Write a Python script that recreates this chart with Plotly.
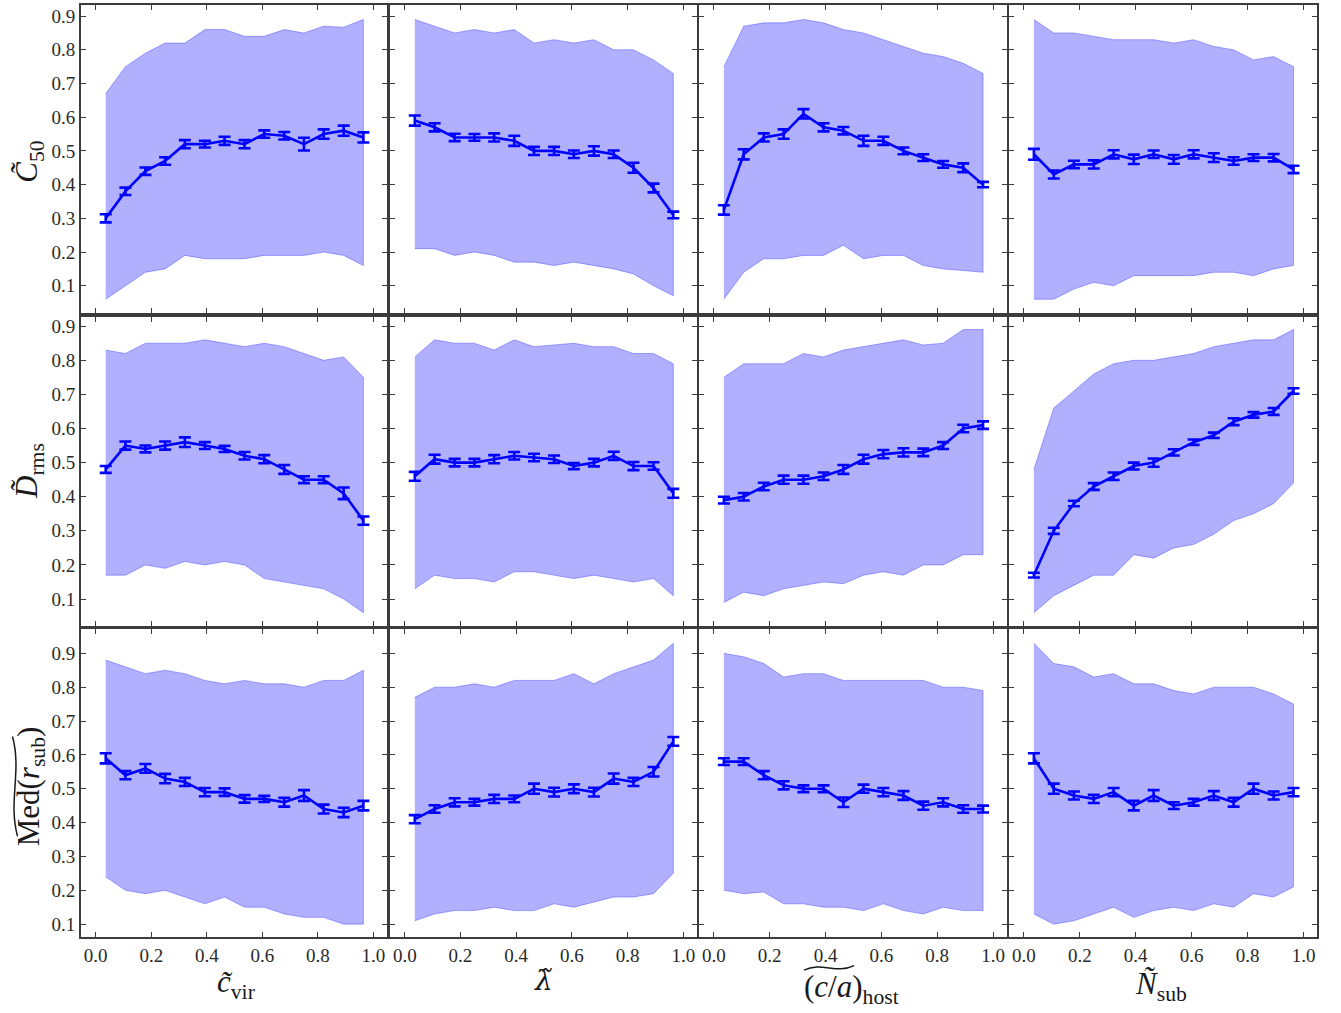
import plotly.graph_objects as go

# ---- bin centres (14 equal-width bins of the rank-normalised property) ----
x_bins = [0.036, 0.107, 0.179, 0.250, 0.321, 0.393, 0.464,
          0.536, 0.607, 0.679, 0.750, 0.821, 0.893, 0.964]

x_tick_vals = [0.0, 0.2, 0.4, 0.6, 0.8, 1.0]
y_tick_vals = [0.1, 0.2, 0.3, 0.4, 0.5, 0.6, 0.7, 0.8, 0.9]

# ---- row 1: C50 ----
c50_cvir_med = [0.30, 0.38, 0.44, 0.47, 0.52, 0.52, 0.53, 0.52, 0.55, 0.545, 0.52, 0.55, 0.56, 0.54]
c50_cvir_err = [0.012, 0.011, 0.011, 0.011, 0.012, 0.010, 0.012, 0.012, 0.011, 0.011, 0.019, 0.014, 0.015, 0.015]
c50_cvir_hi = [0.67, 0.75, 0.79, 0.82, 0.82, 0.86, 0.86, 0.84, 0.84, 0.86, 0.85, 0.87, 0.867, 0.89]
c50_cvir_lo = [0.06, 0.10, 0.14, 0.15, 0.19, 0.18, 0.18, 0.18, 0.19, 0.19, 0.19, 0.20, 0.19, 0.16]

c50_lam_med = [0.59, 0.57, 0.54, 0.54, 0.54, 0.53, 0.50, 0.50, 0.49, 0.50, 0.49, 0.45, 0.39, 0.31]
c50_lam_err = [0.015, 0.012, 0.011, 0.010, 0.012, 0.015, 0.012, 0.012, 0.011, 0.014, 0.011, 0.015, 0.013, 0.010]
c50_lam_hi = [0.89, 0.87, 0.85, 0.86, 0.85, 0.86, 0.82, 0.83, 0.82, 0.83, 0.80, 0.80, 0.77, 0.73]
c50_lam_lo = [0.21, 0.21, 0.19, 0.20, 0.19, 0.17, 0.17, 0.16, 0.17, 0.16, 0.15, 0.135, 0.10, 0.07]

c50_ca_med = [0.325, 0.49, 0.54, 0.55, 0.61, 0.57, 0.56, 0.53, 0.53, 0.50, 0.48, 0.46, 0.45, 0.40]
c50_ca_err = [0.014, 0.015, 0.012, 0.014, 0.014, 0.012, 0.011, 0.015, 0.012, 0.010, 0.010, 0.010, 0.013, 0.008]
c50_ca_hi = [0.75, 0.87, 0.88, 0.88, 0.89, 0.88, 0.86, 0.85, 0.83, 0.81, 0.79, 0.78, 0.76, 0.73]
c50_ca_lo = [0.06, 0.14, 0.18, 0.18, 0.19, 0.19, 0.22, 0.18, 0.19, 0.19, 0.16, 0.15, 0.145, 0.14]

c50_nsub_med = [0.49, 0.43, 0.46, 0.46, 0.49, 0.475, 0.49, 0.475, 0.49, 0.48, 0.47, 0.48, 0.48, 0.445]
c50_nsub_err = [0.016, 0.012, 0.011, 0.012, 0.012, 0.014, 0.011, 0.013, 0.012, 0.013, 0.011, 0.010, 0.011, 0.011]
c50_nsub_hi = [0.89, 0.85, 0.85, 0.84, 0.83, 0.83, 0.83, 0.82, 0.83, 0.81, 0.80, 0.77, 0.78, 0.75]
c50_nsub_lo = [0.06, 0.06, 0.09, 0.11, 0.10, 0.13, 0.13, 0.13, 0.13, 0.14, 0.14, 0.13, 0.15, 0.16]

# ---- row 2: D_rms ----
drms_cvir_med = [0.48, 0.55, 0.54, 0.55, 0.56, 0.55, 0.54, 0.52, 0.51, 0.48, 0.45, 0.45, 0.41, 0.33]
drms_cvir_err = [0.010, 0.012, 0.010, 0.012, 0.014, 0.010, 0.009, 0.011, 0.012, 0.013, 0.010, 0.010, 0.017, 0.012]
drms_cvir_hi = [0.83, 0.82, 0.85, 0.85, 0.85, 0.86, 0.85, 0.84, 0.85, 0.84, 0.82, 0.80, 0.81, 0.75]
drms_cvir_lo = [0.17, 0.17, 0.20, 0.19, 0.21, 0.20, 0.21, 0.20, 0.16, 0.15, 0.14, 0.13, 0.10, 0.06]

drms_lam_med = [0.46, 0.51, 0.50, 0.50, 0.51, 0.52, 0.515, 0.51, 0.49, 0.50, 0.52, 0.49, 0.49, 0.41]
drms_lam_err = [0.013, 0.013, 0.011, 0.011, 0.012, 0.011, 0.011, 0.011, 0.009, 0.011, 0.012, 0.012, 0.011, 0.013]
drms_lam_hi = [0.81, 0.86, 0.85, 0.85, 0.83, 0.86, 0.84, 0.845, 0.85, 0.84, 0.84, 0.82, 0.82, 0.79]
drms_lam_lo = [0.13, 0.17, 0.16, 0.16, 0.15, 0.18, 0.18, 0.17, 0.16, 0.17, 0.16, 0.15, 0.16, 0.11]

drms_ca_med = [0.39, 0.40, 0.43, 0.45, 0.45, 0.46, 0.48, 0.51, 0.525, 0.53, 0.53, 0.55, 0.60, 0.61]
drms_ca_err = [0.010, 0.011, 0.011, 0.012, 0.012, 0.011, 0.013, 0.013, 0.012, 0.012, 0.011, 0.010, 0.011, 0.011]
drms_ca_hi = [0.75, 0.79, 0.79, 0.79, 0.82, 0.81, 0.83, 0.84, 0.85, 0.86, 0.845, 0.85, 0.89, 0.89]
drms_ca_lo = [0.09, 0.12, 0.11, 0.13, 0.14, 0.15, 0.145, 0.17, 0.18, 0.17, 0.20, 0.20, 0.23, 0.23]

drms_nsub_med = [0.17, 0.30, 0.38, 0.43, 0.46, 0.49, 0.50, 0.53, 0.56, 0.58, 0.62, 0.64, 0.65, 0.71]
drms_nsub_err = [0.007, 0.009, 0.008, 0.010, 0.011, 0.010, 0.012, 0.009, 0.008, 0.008, 0.010, 0.008, 0.010, 0.008]
drms_nsub_hi = [0.48, 0.66, 0.71, 0.76, 0.79, 0.80, 0.80, 0.81, 0.82, 0.84, 0.85, 0.86, 0.86, 0.89]
drms_nsub_lo = [0.06, 0.11, 0.14, 0.17, 0.17, 0.23, 0.22, 0.25, 0.26, 0.29, 0.33, 0.35, 0.38, 0.44]

# ---- row 3: median subhalo radius ----
rsub_cvir_med = [0.59, 0.54, 0.56, 0.53, 0.52, 0.49, 0.49, 0.47, 0.47, 0.46, 0.48, 0.44, 0.43, 0.45]
rsub_cvir_err = [0.015, 0.012, 0.013, 0.014, 0.012, 0.012, 0.011, 0.011, 0.009, 0.013, 0.016, 0.013, 0.014, 0.014]
rsub_cvir_hi = [0.88, 0.86, 0.84, 0.85, 0.84, 0.82, 0.81, 0.82, 0.81, 0.81, 0.80, 0.82, 0.82, 0.85]
rsub_cvir_lo = [0.24, 0.20, 0.19, 0.20, 0.18, 0.16, 0.18, 0.15, 0.15, 0.13, 0.12, 0.12, 0.10, 0.10]

rsub_lam_med = [0.41, 0.44, 0.46, 0.46, 0.47, 0.47, 0.50, 0.49, 0.50, 0.49, 0.53, 0.52, 0.55, 0.64]
rsub_lam_err = [0.012, 0.011, 0.012, 0.010, 0.012, 0.010, 0.015, 0.013, 0.013, 0.013, 0.015, 0.012, 0.014, 0.013]
rsub_lam_hi = [0.77, 0.80, 0.80, 0.81, 0.80, 0.82, 0.82, 0.82, 0.84, 0.81, 0.84, 0.86, 0.88, 0.93]
rsub_lam_lo = [0.11, 0.13, 0.14, 0.14, 0.15, 0.14, 0.14, 0.16, 0.15, 0.165, 0.18, 0.18, 0.19, 0.25]

rsub_ca_med = [0.58, 0.58, 0.54, 0.51, 0.50, 0.50, 0.46, 0.50, 0.49, 0.48, 0.45, 0.46, 0.44, 0.44]
rsub_ca_err = [0.010, 0.010, 0.012, 0.012, 0.010, 0.010, 0.014, 0.012, 0.012, 0.013, 0.012, 0.012, 0.011, 0.010]
rsub_ca_hi = [0.90, 0.89, 0.87, 0.83, 0.84, 0.84, 0.82, 0.82, 0.82, 0.82, 0.82, 0.80, 0.80, 0.79]
rsub_ca_lo = [0.20, 0.19, 0.195, 0.16, 0.16, 0.15, 0.15, 0.14, 0.16, 0.14, 0.13, 0.15, 0.14, 0.14]

rsub_nsub_med = [0.59, 0.50, 0.48, 0.47, 0.49, 0.45, 0.48, 0.45, 0.46, 0.48, 0.46, 0.50, 0.48, 0.49]
rsub_nsub_err = [0.015, 0.015, 0.012, 0.012, 0.012, 0.014, 0.016, 0.010, 0.010, 0.013, 0.013, 0.015, 0.012, 0.012]
rsub_nsub_hi = [0.93, 0.87, 0.86, 0.83, 0.84, 0.81, 0.81, 0.79, 0.78, 0.80, 0.80, 0.80, 0.78, 0.75]
rsub_nsub_lo = [0.13, 0.10, 0.11, 0.13, 0.15, 0.12, 0.14, 0.15, 0.14, 0.16, 0.15, 0.19, 0.18, 0.21]

panels = [
    [(c50_cvir_med, c50_cvir_err, c50_cvir_lo, c50_cvir_hi),
     (c50_lam_med, c50_lam_err, c50_lam_lo, c50_lam_hi),
     (c50_ca_med, c50_ca_err, c50_ca_lo, c50_ca_hi),
     (c50_nsub_med, c50_nsub_err, c50_nsub_lo, c50_nsub_hi)],
    [(drms_cvir_med, drms_cvir_err, drms_cvir_lo, drms_cvir_hi),
     (drms_lam_med, drms_lam_err, drms_lam_lo, drms_lam_hi),
     (drms_ca_med, drms_ca_err, drms_ca_lo, drms_ca_hi),
     (drms_nsub_med, drms_nsub_err, drms_nsub_lo, drms_nsub_hi)],
    [(rsub_cvir_med, rsub_cvir_err, rsub_cvir_lo, rsub_cvir_hi),
     (rsub_lam_med, rsub_lam_err, rsub_lam_lo, rsub_lam_hi),
     (rsub_ca_med, rsub_ca_err, rsub_ca_lo, rsub_ca_hi),
     (rsub_nsub_med, rsub_nsub_err, rsub_nsub_lo, rsub_nsub_hi)],
]

# ---- page geometry ----
W, H = 1341, 1013
M_L, M_R, M_T, M_B = 81, 24, 3, 76
PW, PH = W - M_L - M_R, H - M_T - M_B

col_px = [(81, 386.7), (390, 696.7), (699, 1006.5), (1009, 1317)]
row_px = [(3.3, 311.7), (315.3, 625), (628.3, 937)]
row_yrange = [[0.019, 0.932], [0.022, 0.928], [0.062, 0.972]]


def px_x(px):
    return (px - M_L) / PW


def px_y(py):
    return 1 - (py - M_T) / PH


FRAME = "#3c3c3c"
FONT = "Liberation Serif"
BLUE = "#0000ff"

fig = go.Figure()
layout = {}

for r in range(3):
    for c in range(4):
        i = r * 4 + c + 1
        xa = "x" if i == 1 else f"x{i}"
        ya = "y" if i == 1 else f"y{i}"
        med, err, lo, hi = panels[r][c]

        # 68% scatter band of the individual haloes
        fig.add_trace(go.Scatter(
            x=x_bins + x_bins[::-1], y=hi + lo[::-1],
            xaxis=xa, yaxis=ya, mode="lines", fill="toself",
            fillcolor="rgba(0,0,255,0.31)",
            line=dict(color="rgba(0,0,255,0.30)", width=1),
            hoverinfo="skip", showlegend=False))

        # binned median with its uncertainty
        fig.add_trace(go.Scatter(
            x=x_bins, y=med, xaxis=xa, yaxis=ya, mode="lines",
            line=dict(color=BLUE, width=2.6),
            error_y=dict(type="data", array=err, color=BLUE,
                         thickness=2.6, width=6),
            showlegend=False))

        x0, x1 = col_px[c]
        y0, y1 = row_px[r]
        layout["xaxis" if i == 1 else f"xaxis{i}"] = dict(
            domain=[px_x(x0), px_x(x1)], anchor=ya, range=[-0.053, 1.048],
            tickvals=x_tick_vals, tickformat=".1f", ticks="inside", ticklen=5,
            tickwidth=1.2, tickcolor=FRAME, showline=True, linecolor=FRAME,
            linewidth=2, mirror="allticks", showgrid=False, zeroline=False,
            showticklabels=(r == 2),
            tickfont=dict(family=FONT, size=19, color="#2a2a2a"))
        layout["yaxis" if i == 1 else f"yaxis{i}"] = dict(
            domain=[px_y(y1), px_y(y0)], anchor=xa, range=row_yrange[r],
            tickvals=y_tick_vals, tickformat=".1f", ticks="inside", ticklen=5,
            tickwidth=1.2, tickcolor=FRAME, showline=True, linecolor=FRAME,
            linewidth=2, mirror="allticks", showgrid=False, zeroline=False,
            showticklabels=(c == 0),
            tickfont=dict(family=FONT, size=19, color="#2a2a2a"))

TITLE_FONT = dict(family=FONT, size=31, color="#1a1a1a")

annotations = []


def add_label(text, px, py, angle=0, font=None):
    annotations.append(dict(
        text=text, x=px_x(px), y=px_y(py), xref="paper", yref="paper",
        xanchor="center", yanchor="middle", showarrow=False,
        textangle=angle, font=font or TITLE_FONT))


# axis titles
add_label("<i>c\u0303</i><sub>vir</sub>", 236, 984)
add_label("<i>\u03bb\u0303</i>", 543, 981,
          font=dict(family="DejaVu Serif", size=28, color="#1a1a1a"))
add_label("(<i>c</i>/<i>a</i>)<sub>host</sub>", 851, 989)
add_label("<i>\u00d1</i><sub>sub</sub>", 1161, 986)

add_label("<i>C\u0303</i><sub>50</sub>", 29, 160, -90)
add_label("<i>D\u0303</i><sub>rms</sub>", 29, 470, -90)
add_label("Med(<i>r</i><sub>sub</sub>)", 31, 786, -90)


def tilde_path(cx, cy, length, amp, vertical=False):
    """Wide tilde accent as a cubic Bezier, given in page pixels."""
    # local coordinates: u along the accent, v perpendicular (up is -v)
    pts = [(-length / 2, amp / 2), (-length / 2 + 0.35 * length, -1.4 * amp),
           (-length / 2 + 0.65 * length, 1.4 * amp), (length / 2, -amp / 2)]
    out = []
    for u, v in pts:
        if vertical:
            px, py = cx + v, cy - u
        else:
            px, py = cx + u, cy + v
        out.append((px_x(px), px_y(py)))
    (a, b), (c1, d1), (c2, d2), (e, f) = out
    return f"M {a},{b} C {c1},{d1} {c2},{d2} {e},{f}"


shapes = [
    dict(type="path", xref="paper", yref="paper",
         path=tilde_path(829, 968, 50, 4.5), line=dict(color="#1a1a1a", width=1.5)),
    dict(type="path", xref="paper", yref="paper",
         path=tilde_path(15, 786, 100, 5, vertical=True),
         line=dict(color="#1a1a1a", width=1.5)),
]

fig.update_layout(
    **layout,
    annotations=annotations,
    shapes=shapes,
    width=W, height=H,
    margin=dict(l=M_L, r=M_R, t=M_T, b=M_B),
    paper_bgcolor="white", plot_bgcolor="white",
    showlegend=False,
)

fig.write_html("out.html")
